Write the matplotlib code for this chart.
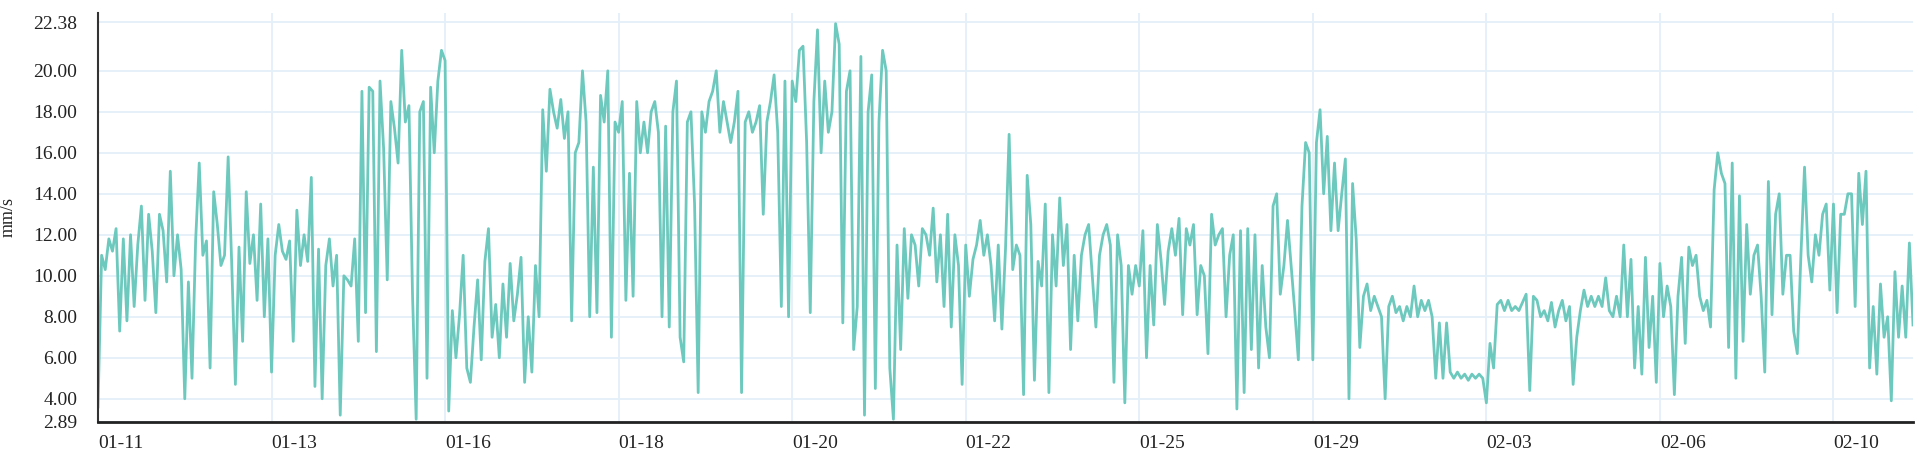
import matplotlib
matplotlib.use('Agg')
import matplotlib.pyplot as plt

# one block of readings per x label (48 samples between labels)
seg_0111 = [3.6, 11.0, 10.3, 11.8, 11.2, 12.3, 7.3, 11.8, 7.8, 12.0, 8.5, 11.5,
            13.4, 8.8, 13.0, 11.2, 8.2, 13.0, 12.2, 9.7, 15.1, 10.0, 12.0, 10.3,
            4.0, 9.7, 5.0, 11.7, 15.5, 11.0, 11.7, 5.5, 14.1, 12.5, 10.5, 11.0,
            15.8, 10.5, 4.7, 11.4, 6.8, 14.1, 10.6, 12.0, 8.8, 13.5, 8.0, 11.8]
seg_0113 = [5.3, 11.0, 12.5, 11.2, 10.8, 11.7, 6.8, 13.2, 10.5, 12.0, 10.7, 14.8,
            4.6, 11.3, 4.0, 10.5, 11.8, 9.5, 11.0, 3.2, 10.0, 9.8, 9.5, 11.8,
            6.8, 19.0, 8.2, 19.2, 19.0, 6.3, 19.5, 16.2, 9.8, 18.5, 17.2, 15.5,
            21.0, 17.5, 18.3, 9.0, 3.0, 18.0, 18.5, 5.0, 19.2, 16.0, 19.5, 21.0]
seg_0116 = [20.5, 3.4, 8.3, 6.0, 8.1, 11.0, 5.5, 4.8, 7.5, 9.8, 5.9, 10.7,
            12.3, 7.0, 8.6, 6.0, 9.6, 7.0, 10.6, 7.8, 9.1, 10.9, 4.8, 8.0,
            5.3, 10.5, 8.0, 18.1, 15.1, 19.1, 18.0, 17.2, 18.6, 16.7, 18.0, 7.8,
            16.0, 16.5, 20.0, 17.5, 8.0, 15.3, 8.2, 18.8, 17.5, 20.0, 7.0, 17.5]
seg_0118 = [17.0, 18.5, 8.8, 15.0, 9.0, 18.5, 16.0, 17.5, 16.0, 18.0, 18.5, 17.0,
            8.0, 17.3, 7.5, 18.0, 19.5, 7.0, 5.8, 17.5, 18.0, 13.5, 4.3, 18.0,
            17.0, 18.5, 19.0, 20.0, 17.0, 18.5, 17.5, 16.5, 17.5, 19.0, 4.3, 17.5,
            18.0, 17.0, 17.5, 18.3, 13.0, 17.5, 18.5, 19.8, 17.0, 8.5, 19.5, 8.0]
seg_0120 = [19.5, 18.5, 21.0, 21.2, 16.5, 8.2, 18.5, 22.0, 16.0, 19.5, 17.0, 18.0,
            22.3, 21.3, 7.7, 19.0, 20.0, 6.4, 8.5, 20.7, 3.2, 18.0, 19.8, 4.5,
            17.5, 21.0, 20.0, 5.5, 3.0, 11.5, 6.4, 12.3, 8.9, 12.0, 11.5, 9.5,
            12.3, 12.0, 11.0, 13.3, 9.7, 12.0, 8.5, 13.0, 7.5, 12.0, 10.5, 4.7]
seg_0122 = [11.5, 9.0, 10.8, 11.5, 12.7, 11.0, 12.0, 10.5, 7.8, 11.5, 7.4, 11.3,
            16.9, 10.3, 11.5, 11.0, 4.2, 14.9, 12.5, 4.9, 10.7, 9.5, 13.5, 4.3,
            12.0, 9.5, 13.8, 10.5, 12.5, 6.4, 11.0, 7.8, 11.0, 12.0, 12.5, 10.0,
            7.5, 11.0, 12.0, 12.5, 11.5, 4.8, 12.0, 10.5, 3.8, 10.5, 9.1, 10.5]
seg_0125 = [9.5, 12.2, 6.0, 10.5, 7.6, 12.5, 10.8, 8.6, 11.2, 12.3, 11.0, 12.8,
            8.1, 12.3, 11.5, 12.5, 8.1, 10.5, 10.0, 6.2, 13.0, 11.5, 12.0, 12.3,
            8.0, 11.0, 12.0, 3.5, 12.2, 4.3, 12.3, 6.4, 12.0, 5.5, 10.5, 7.5,
            6.0, 13.4, 14.0, 9.1, 10.5, 12.7, 10.5, 8.3, 5.9, 13.4, 16.5, 16.0]
seg_0129 = [5.9, 16.5, 18.1, 14.0, 16.8, 12.2, 15.5, 12.2, 14.0, 15.7, 4.0, 14.5,
            11.8, 6.5, 9.0, 9.6, 8.3, 9.0, 8.5, 8.0, 4.0, 8.5, 9.0, 8.2,
            8.5, 7.8, 8.5, 8.0, 9.5, 8.0, 8.8, 8.3, 8.8, 8.0, 5.0, 7.7,
            5.0, 7.7, 5.3, 5.0, 5.3, 5.0, 5.2, 4.9, 5.2, 5.0, 5.2, 5.0]
seg_0203 = [3.8, 6.7, 5.5, 8.6, 8.8, 8.3, 8.8, 8.3, 8.5, 8.3, 8.7, 9.1,
            4.4, 9.0, 8.8, 8.0, 8.3, 7.8, 8.7, 7.5, 8.3, 8.8, 7.8, 8.5,
            4.7, 7.0, 8.3, 9.3, 8.5, 9.0, 8.5, 9.0, 8.5, 9.9, 8.3, 8.0,
            9.0, 8.0, 11.5, 8.0, 10.8, 5.5, 8.5, 5.2, 10.9, 6.5, 9.0, 4.8]
seg_0206 = [10.6, 8.0, 9.5, 8.5, 4.2, 9.0, 10.9, 6.7, 11.4, 10.5, 11.0, 9.0,
            8.3, 8.8, 7.5, 14.2, 16.0, 15.0, 14.5, 6.5, 15.5, 5.0, 13.9, 6.8,
            12.5, 9.1, 11.0, 11.5, 9.0, 5.3, 14.6, 8.1, 13.0, 14.0, 9.1, 11.0,
            11.0, 7.3, 6.2, 11.0, 15.3, 11.0, 9.7, 12.0, 11.0, 13.0, 13.5, 9.3]
seg_0210 = [13.5, 8.2, 13.0, 13.0, 14.0, 14.0, 8.5, 15.0, 12.5, 15.1, 5.5, 8.5,
            5.2, 9.6, 7.0, 8.0, 3.9, 10.2, 7.0, 9.5, 7.0, 11.6, 7.6]

segments = [seg_0111, seg_0113, seg_0116, seg_0118, seg_0120, seg_0122,
            seg_0125, seg_0129, seg_0203, seg_0206, seg_0210]
date_labels = ['01-11', '01-13', '01-16', '01-18', '01-20', '01-22',
               '01-25', '01-29', '02-03', '02-06', '02-10']
y_ticks = [2.89, 4, 6, 8, 10, 12, 14, 16, 18, 20, 22.38]

values = [v for seg in segments for v in seg]
tick_pos = []
start = 0
for seg in segments:
    tick_pos.append(start)
    start += len(seg)

plt.rcParams['font.family'] = ['Liberation Serif', 'DejaVu Serif']

fig = plt.figure(figsize=(19.25, 4.62), dpi=100)
ax = fig.add_axes([98 / 1925, 40.5 / 462, 1815 / 1925, 408.5 / 462])

ax.plot(range(len(values)), values, color='#6dc9bd', lw=2.0)

ax.set_xlim(0, len(values) - 1)
ax.set_ylim(2.89, 22.82)
ax.set_yticks(y_ticks)
ax.set_yticklabels(['%.2f' % t for t in y_ticks])
ax.set_xticks(tick_pos)
ax.set_xticklabels(date_labels, ha='left')
ax.tick_params(axis='both', length=0, labelsize=14, colors='#222222')
ax.tick_params(axis='y', pad=15)
ax.tick_params(axis='x', pad=10)
ax.set_ylabel('mm/s', fontsize=13, color='#222222')
ax.yaxis.set_label_coords(-0.045, 0.5)

ax.grid(True, color='#e3eff9', lw=1.3)
ax.set_axisbelow(True)
for side in ['top', 'right']:
    ax.spines[side].set_visible(False)
ax.spines['left'].set_color('#333333')
ax.spines['left'].set_linewidth(1.5)
ax.spines['bottom'].set_color('#222222')
ax.spines['bottom'].set_linewidth(2.0)

fig.savefig('out.png', dpi=100)
